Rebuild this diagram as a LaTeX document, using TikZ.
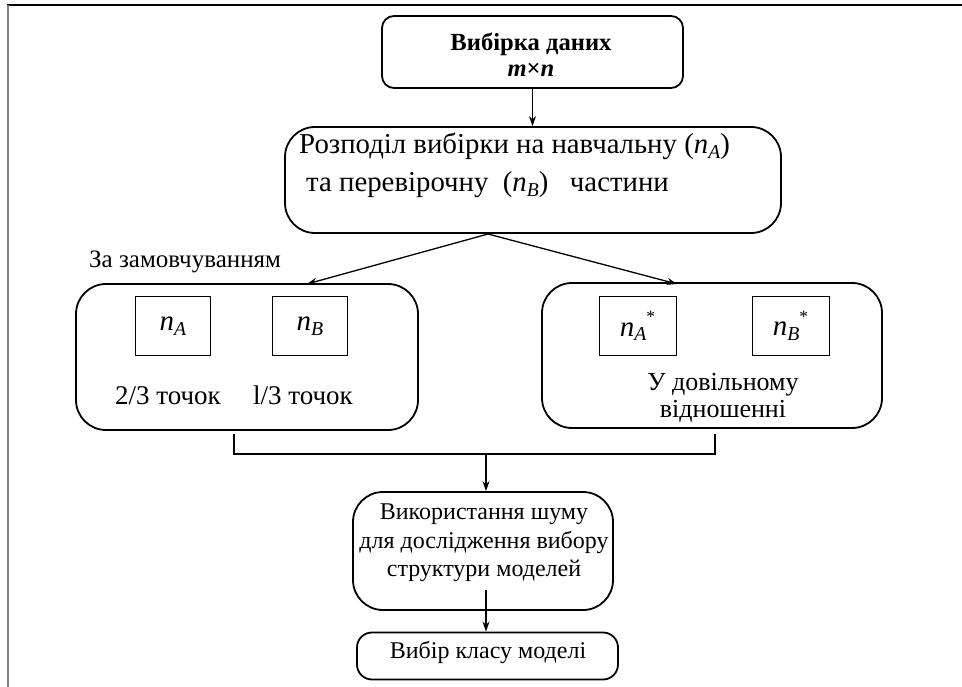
\documentclass[tikz,border=0pt]{standalone}
\usepackage{fontspec}
\setmainfont{Liberation Serif}
\usetikzlibrary{arrows.meta}
\newcommand\nsb[1]{\textit{n}\raisebox{-0.35ex}{\fontsize{0.68em}{1em}\selectfont\textit{#1}}}
\newcommand\nst[1]{\textit{n}\raisebox{-0.35ex}{\fontsize{0.68em}{1em}\selectfont\textit{#1}}\raisebox{1.0ex}{\fontsize{0.6em}{1em}\selectfont *}}
\begin{document}
\begin{tikzpicture}[x=1pt,y=-1pt,
  txt/.style={font=\fontsize{24}{28.5}\selectfont, inner sep=0pt, align=center},
  rbox/.style={draw, line width=1.8pt, rounded corners=#1, inner sep=0pt},
  sqbox/.style={draw, line width=1pt, minimum width=75pt, minimum height=58pt, inner sep=0pt, font=\fontsize{29}{30}\selectfont},
  arr/.style={-{Stealth[length=10pt,width=7pt]}, line width=1.3pt}
]
\useasboundingbox (0,0) rectangle (962,687);
\fill[white] (0,0) rectangle (962,687);
% frame
\coordinate (ftl) at (8,5);
\coordinate (ftr) at (962,5);
\coordinate (fbl) at (8,687);
\draw[line width=2pt] (7,5) -- (ftr);
\draw[line width=2.2pt, gray] (ftl) -- (fbl);

% top box
\node[rbox=12pt, minimum width=301pt, minimum height=72pt] (top) at (532.5,52) {};
\node[txt, font=\fontsize{24.6}{26}\selectfont\bfseries] (toptxt) at (531,55) {Вибірка даних\\ \textit{m}×\textit{n}};

% split box
\node[rbox=30pt, minimum width=496pt, minimum height=106pt] (split) at (533,180) {};
\node[txt, anchor=base west, font=\fontsize{28.8}{30}\selectfont] (splitA) at (299,154) {Розподіл вибірки на навчальну (\nsb{A})};
\node[txt, anchor=base west, font=\fontsize{28.8}{30}\selectfont] (splitB) at (306,192) {та перевірочну\ \ (\nsb{B})\ \ \ частини};

% left box
\node[rbox=30pt, minimum width=342pt, minimum height=146pt] (left) at (247,357) {};
\node[sqbox] (na) at (173,326) {\nsb{A}};
\node[sqbox] (nb) at (310,326) {\nsb{B}};
\node[txt, anchor=base, font=\fontsize{27}{30}\selectfont] (la) at (168,404) {2/3 точок};
\node[txt, anchor=base, font=\fontsize{27}{30}\selectfont] (lb) at (303,404) {l/3 точок};
\node[txt, anchor=west, font=\fontsize{25}{30}\selectfont] (deflbl) at (89,262) {За замовчуванням};

% right box
\node[rbox=30pt, minimum width=340pt, minimum height=145pt] (right) at (712,355.5) {};
\node[sqbox, minimum width=77pt] (nas) at (637.5,326) {\nst{A}};
\node[sqbox, minimum width=77pt] (nbs) at (790.5,326) {\nst{B}};
\node[txt, font=\fontsize{26}{27}\selectfont] (rl) at (723,398) {У довільному\\відношенні};

% arrows from split
\coordinate (sp) at (488,234);
\coordinate (lt) at (307,284);
\coordinate (rt) at (677,284);
\draw[arr] (top.south) -- (top.south |- split.north);
\draw[arr] (sp) -- (lt);
\draw[arr] (sp) -- (rt);

% bracket
\coordinate (b1) at (234,434);
\coordinate (b2) at (234,454);
\coordinate (b3) at (715,454);
\coordinate (b4) at (715,434);
\coordinate (bm) at (486,454);
\draw[line width=1.8pt] (b1) -- (b2) -- (b3) -- (b4);

% noise box
\node[rbox=30pt, minimum width=260pt, minimum height=118pt] (noise) at (483,551) {};
\node[txt] (noisetxt) at (484,543) {Використання шуму\\для дослідження вибору\\структури моделей};
\draw[arr] (bm) -- (bm |- noise.north);

% class box
\node[rbox=15pt, minimum width=261pt, minimum height=47pt] (cls) at (487.5,656) {};
\node[txt] (clstxt) at (488,652) {Вибір класу моделі};
\coordinate (ns) at (486,590);
\draw[arr] (ns) -- (ns |- cls.north);
\end{tikzpicture}
\end{document}
